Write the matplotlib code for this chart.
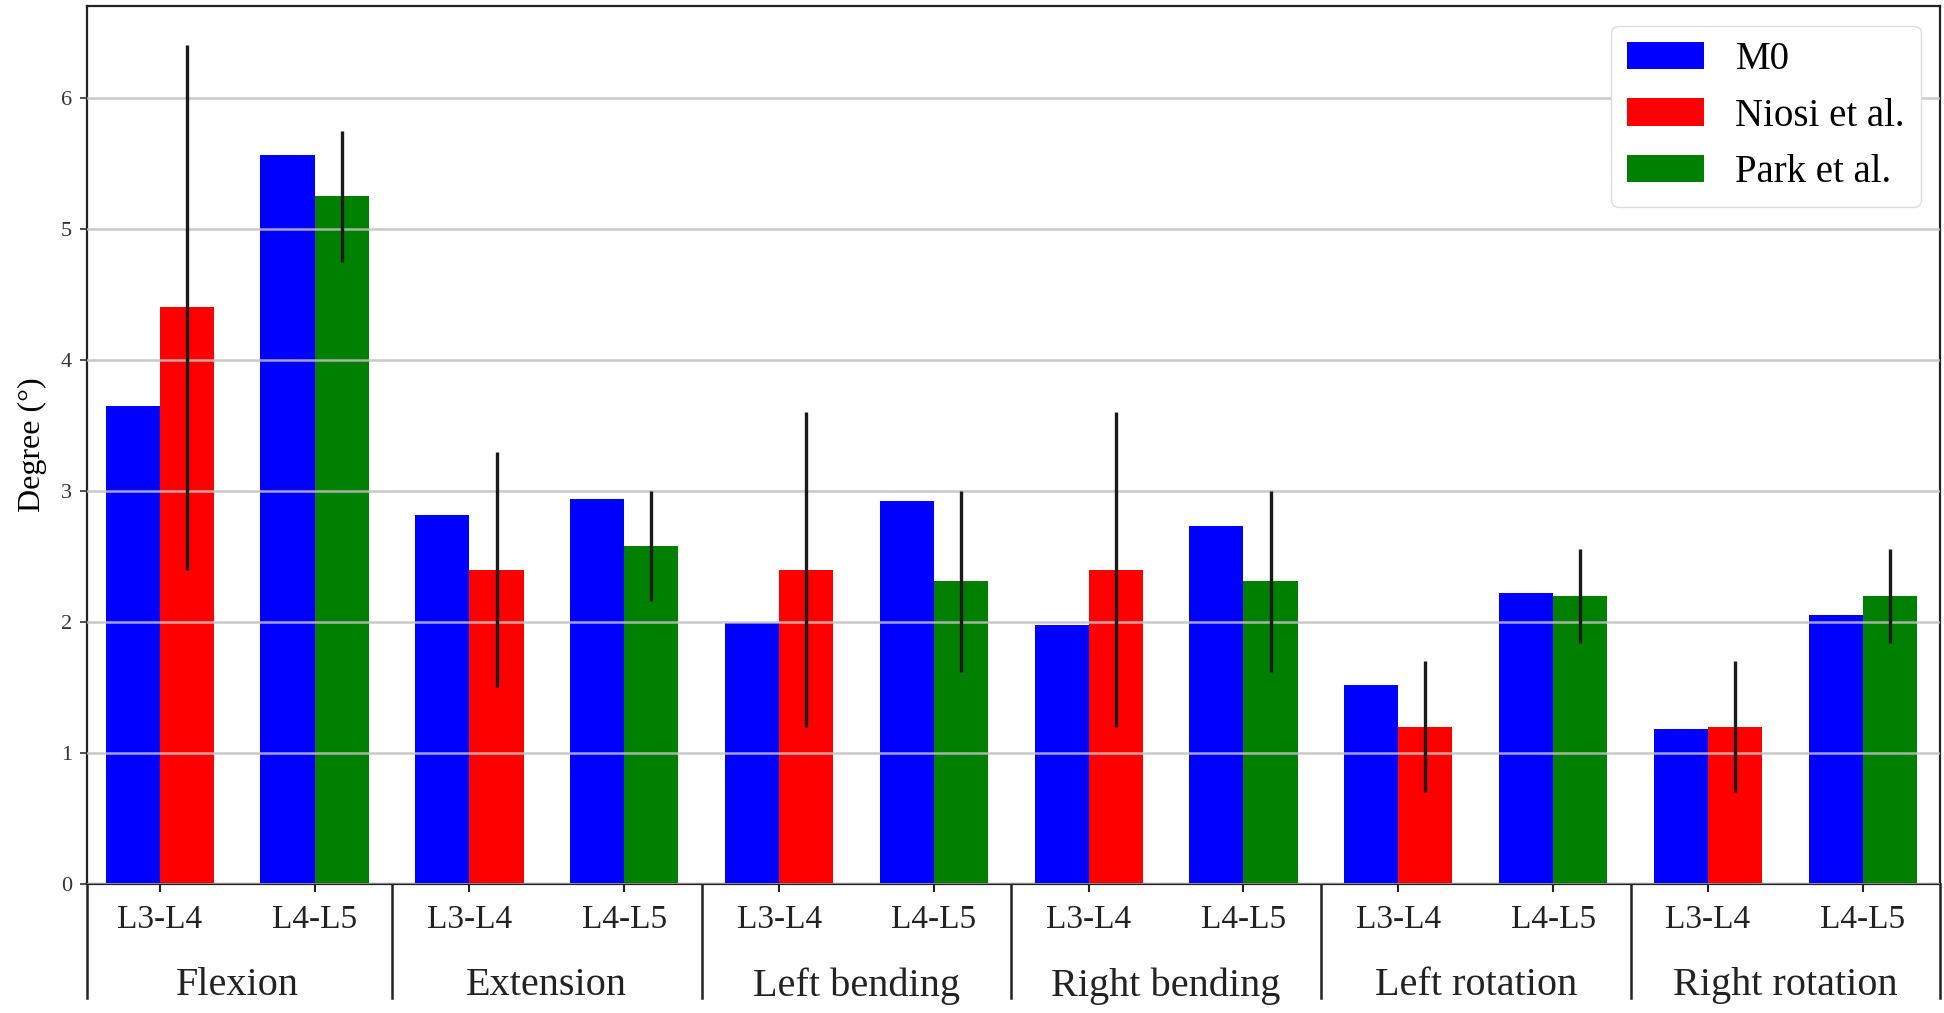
import numpy as np
import matplotlib
matplotlib.use('Agg')
import matplotlib.pyplot as plt
import matplotlib.transforms as mtransforms

plt.rcParams['font.family'] = ['Liberation Serif', 'DejaVu Serif']

# Datos
movimientos = ['Flexion', 'Extension', 'Left bending', 'Right bending',
               'Left rotation', 'Right rotation']
segmentos = ['L3-L4', 'L4-L5']

# M0 (barra azul), orden: L3-L4, L4-L5 para cada movimiento
m0 = [3.65, 5.56, 2.82, 2.94, 1.99, 2.92, 1.98, 2.73, 1.52, 2.22, 1.18, 2.05]
# Niosi et al. (L3-L4) y Park et al. (L4-L5)
niosi = [4.40, 2.40, 2.40, 2.40, 1.20, 1.20]
niosi_err = [2.00, 0.90, 1.20, 1.20, 0.50, 0.50]
park = [5.25, 2.58, 2.31, 2.31, 2.20, 2.20]
park_err = [0.50, 0.42, 0.69, 0.69, 0.36, 0.36]

n = len(movimientos) * len(segmentos)
x = np.arange(n)
ancho = 0.35

fig = plt.figure(figsize=(19.44, 10.13), dpi=100)
ax = fig.add_axes([0.0448, 0.1273, 0.9532, 0.8667])

# Barras M0 (a la izquierda de cada tick)
ax.bar(x, m0, width=-ancho, align='edge', color='#0000ff', label='M0', zorder=2)

# Barras de referencia (a la derecha del tick)
x_l34 = x[0::2]
x_l45 = x[1::2]
ax.bar(x_l34, niosi, width=ancho, align='edge', color='#ff0000',
       label='Niosi et al.', zorder=2)
ax.bar(x_l45, park, width=ancho, align='edge', color='#008000',
       label='Park et al.', zorder=2)

# Barras de error (sin tapas)
ax.errorbar(x_l34 + ancho / 2, niosi, yerr=niosi_err, fmt='none',
            ecolor='#1a1a1a', elinewidth=2.4, capsize=0, zorder=4)
ax.errorbar(x_l45 + ancho / 2, park, yerr=park_err, fmt='none',
            ecolor='#1a1a1a', elinewidth=2.4, capsize=0, zorder=4)

ax.set_xlim(-0.47, 11.5)
ax.set_ylim(0, 6.7)
ax.set_yticks(range(0, 7))
ax.set_xticks(x)
ax.set_xticklabels(segmentos * len(movimientos))
ax.tick_params(axis='x', labelsize=24, length=6, width=1.5, pad=9, colors='#222222')
ax.tick_params(axis='y', labelsize=16, length=5, width=1.2, pad=6, colors='#333333')

ax.yaxis.grid(True, color='#c0c0c0', linewidth=1.8, alpha=0.85, zorder=3)
ax.set_axisbelow(False)

for s in ax.spines.values():
    s.set_linewidth(1.6)
    s.set_color('#222222')

ax.set_ylabel('Degree (°)', fontsize=23, labelpad=10)

# Separadores de grupo y etiquetas de movimiento debajo del eje
trans = mtransforms.blended_transform_factory(ax.transData, ax.transAxes)
bordes = [-0.47] + [2 * k + 1.5 for k in range(len(movimientos) - 1)] + [11.5]
for b in bordes:
    ax.plot([b, b], [0, -0.13], transform=trans, color='#222222',
            linewidth=1.8, clip_on=False)
for k, mov in enumerate(movimientos):
    ax.text(2 * k + 0.5, -0.116, mov, transform=trans, ha='center',
            va='center', fontsize=29, color='#222222')

ax.legend(loc='upper right', fontsize=28, handlelength=2.0,
          borderaxespad=0.5, framealpha=1.0, edgecolor='#dddddd')

fig.savefig('out.png', dpi=100)
